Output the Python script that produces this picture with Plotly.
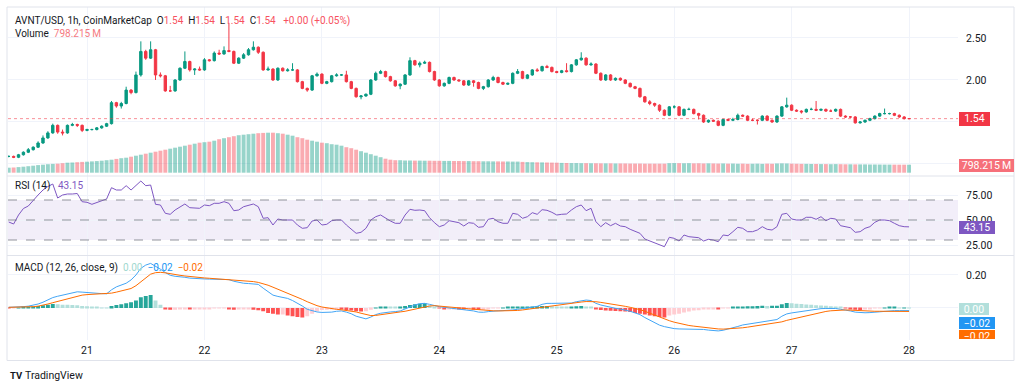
import plotly.graph_objects as go
import pandas as pd

W, H = 1024, 389
FONT = "Roboto"
TXT = "#131722"
UP, DOWN = "#089981", "#f23645"

# ---------------- data ----------------
start_time = "2025-09-20 08:00"
n_bars = 185
times = pd.date_range(start_time, periods=n_bars, freq="h")

closes = [
    1.09, 1.08, 1.11, 1.14, 1.17, 1.20, 1.25, 1.31, 1.37, 1.46,
    1.38, 1.37, 1.46, 1.47, 1.46, 1.40, 1.41, 1.41, 1.43, 1.45,
    1.48, 1.73, 1.69, 1.72, 1.88, 1.85, 2.06, 2.34, 2.26, 2.36,
    2.06, 2.05, 1.87, 1.87, 2.00, 2.14, 2.22, 2.12, 2.13, 2.12,
    2.24, 2.23, 2.32, 2.31, 2.35, 2.34, 2.20, 2.26, 2.30, 2.36,
    2.39, 2.33, 2.12, 2.13, 2.00, 2.14, 2.11, 2.12, 2.12, 1.98,
    1.90, 1.88, 2.05, 2.07, 1.96, 1.98, 2.05, 2.06, 2.06, 1.98,
    1.90, 1.80, 1.81, 1.83, 2.00, 2.08, 2.10, 2.04, 1.99, 1.93,
    1.95, 2.06, 2.23, 2.18, 2.20, 2.21, 2.10, 2.00, 1.93, 1.96,
    2.03, 2.00, 1.99, 1.94, 1.99, 1.97, 1.90, 1.92, 2.00, 2.03,
    1.97, 1.95, 1.96, 2.08, 2.10, 2.02, 2.06, 2.12, 2.11, 2.16,
    2.15, 2.10, 2.09, 2.11, 2.10, 2.18, 2.24, 2.26, 2.18, 2.19,
    2.08, 2.00, 2.06, 2.00, 2.02, 2.00, 1.96, 1.92, 1.90, 1.80,
    1.74, 1.72, 1.70, 1.64, 1.58, 1.68, 1.68, 1.58, 1.65, 1.65,
    1.60, 1.58, 1.50, 1.52, 1.51, 1.46, 1.53, 1.52, 1.53, 1.58,
    1.57, 1.52, 1.52, 1.52, 1.57, 1.52, 1.50, 1.57, 1.68, 1.70,
    1.64, 1.63, 1.62, 1.65, 1.65, 1.64, 1.65, 1.63, 1.63, 1.65,
    1.57, 1.56, 1.56, 1.49, 1.50, 1.52, 1.54, 1.57, 1.60, 1.60,
    1.60, 1.58, 1.56, 1.54, 1.54,
]
highs = [
    1.10, 1.10, 1.12, 1.15, 1.19, 1.21, 1.27, 1.34, 1.39, 1.48,
    1.47, 1.41, 1.47, 1.49, 1.48, 1.47, 1.42, 1.42, 1.44, 1.46,
    1.49, 1.75, 1.74, 1.74, 1.92, 1.89, 2.10, 2.46, 2.36, 2.46,
    2.37, 2.09, 2.06, 1.93, 2.01, 2.15, 2.34, 2.23, 2.14, 2.16,
    2.26, 2.25, 2.34, 2.36, 2.40, 2.68, 2.35, 2.27, 2.32, 2.38,
    2.46, 2.40, 2.34, 2.16, 2.14, 2.15, 2.15, 2.14, 2.20, 2.13,
    1.99, 1.91, 2.06, 2.09, 2.08, 1.99, 2.06, 2.08, 2.07, 2.11,
    1.99, 1.91, 1.82, 1.84, 2.01, 2.10, 2.12, 2.11, 2.05, 2.00,
    1.96, 2.07, 2.27, 2.24, 2.22, 2.23, 2.22, 2.11, 2.01, 1.97,
    2.04, 2.04, 2.01, 2.00, 2.00, 2.00, 1.98, 1.93, 2.01, 2.05,
    2.04, 1.98, 1.97, 2.09, 2.13, 2.11, 2.07, 2.13, 2.14, 2.17,
    2.18, 2.16, 2.11, 2.12, 2.20, 2.19, 2.25, 2.33, 2.27, 2.21,
    2.20, 2.09, 2.07, 2.07, 2.03, 2.03, 2.01, 1.97, 1.93, 1.91,
    1.81, 1.76, 1.73, 1.71, 1.65, 1.69, 1.70, 1.69, 1.66, 1.67,
    1.66, 1.61, 1.59, 1.53, 1.53, 1.52, 1.54, 1.54, 1.55, 1.60,
    1.59, 1.58, 1.54, 1.53, 1.58, 1.58, 1.53, 1.58, 1.69, 1.79,
    1.71, 1.65, 1.64, 1.66, 1.67, 1.75, 1.66, 1.66, 1.65, 1.66,
    1.66, 1.58, 1.57, 1.57, 1.51, 1.53, 1.55, 1.58, 1.61, 1.66,
    1.61, 1.61, 1.59, 1.57, 1.54,
]
lows = [
    1.08, 1.07, 1.07, 1.10, 1.13, 1.16, 1.19, 1.24, 1.30, 1.36,
    1.36, 1.34, 1.36, 1.45, 1.44, 1.38, 1.39, 1.40, 1.40, 1.42,
    1.44, 1.47, 1.67, 1.66, 1.71, 1.83, 1.84, 2.04, 2.24, 2.25,
    2.00, 2.03, 1.86, 1.86, 1.86, 1.99, 2.13, 2.10, 2.06, 2.11,
    2.11, 2.22, 2.22, 2.30, 2.30, 2.33, 2.19, 2.19, 2.25, 2.29,
    2.35, 2.31, 2.11, 2.11, 1.99, 1.99, 2.10, 2.10, 2.11, 1.97,
    1.89, 1.86, 1.87, 2.04, 1.95, 1.95, 1.97, 2.04, 2.05, 1.97,
    1.89, 1.79, 1.77, 1.80, 1.82, 1.99, 2.07, 2.03, 1.98, 1.92,
    1.89, 1.94, 2.05, 2.17, 2.15, 2.19, 2.09, 1.99, 1.92, 1.92,
    1.95, 1.99, 1.98, 1.93, 1.93, 1.92, 1.89, 1.88, 1.91, 1.99,
    1.96, 1.94, 1.94, 1.95, 2.07, 2.01, 2.01, 2.05, 2.10, 2.10,
    2.14, 2.09, 2.08, 2.08, 2.09, 2.09, 2.17, 2.23, 2.17, 2.17,
    2.07, 1.99, 1.99, 1.99, 1.99, 1.99, 1.95, 1.91, 1.89, 1.79,
    1.73, 1.70, 1.68, 1.62, 1.57, 1.57, 1.66, 1.57, 1.57, 1.64,
    1.59, 1.53, 1.49, 1.49, 1.50, 1.45, 1.45, 1.51, 1.51, 1.52,
    1.56, 1.51, 1.51, 1.47, 1.51, 1.51, 1.49, 1.49, 1.56, 1.67,
    1.63, 1.62, 1.60, 1.61, 1.64, 1.63, 1.63, 1.62, 1.62, 1.62,
    1.56, 1.55, 1.55, 1.48, 1.48, 1.49, 1.51, 1.53, 1.56, 1.59,
    1.59, 1.57, 1.55, 1.53, 1.54,
]
first_open = 1.09
opens = [first_open] + closes[:-1]

volume_m = [
    500, 520, 560, 600, 650, 700, 760, 800, 850, 880,
    900, 950, 1000, 1020, 1050, 1080, 1100, 1130, 1160, 1200,
    1250, 1300, 1380, 1450, 1500, 1600, 1700, 1800, 1900, 2000,
    2100, 2200, 2300, 2400, 2500, 2600, 2700, 2800, 2900, 3000,
    3050, 3100, 3200, 3350, 3450, 3550, 3650, 3750, 3800, 3850,
    3900, 3950, 3980, 4000, 4000, 3950, 3900, 3800, 3700, 3550,
    3450, 3300, 3200, 3100, 3000, 2950, 2850, 2800, 2700, 2550,
    2450, 2300, 2150, 2000, 1850, 1700, 1550, 1400, 1300, 1250,
    1250, 1220, 1220, 1210, 1210, 1200, 1200, 1190, 1190, 1180,
    1180, 1170, 1170, 1160, 1160, 1150, 1150, 1140, 1140, 1130,
    1130, 1120, 1120, 1110, 1110, 1080, 1060, 1050, 1040, 1030,
    1020, 1010, 1000, 980, 970, 960, 960, 950, 950, 940,
    940, 930, 930, 930, 920, 920, 920, 910, 910, 910,
    900, 900, 900, 900, 900, 950, 960, 950, 940, 950,
    930, 940, 920, 930, 920, 910, 920, 900, 910, 890,
    900, 880, 890, 900, 880, 900, 890, 920, 930, 920,
    900, 890, 880, 880, 870, 870, 860, 860, 850, 860,
    850, 840, 840, 830, 830, 830, 820, 820, 815, 810,
    810, 805, 800, 800, 798,
]

rsi = [
    48, 46, 55, 61.5, 64, 70, 75, 80, 83.5, 86,
    72, 75, 76, 76, 76.5, 68.3, 67.7, 65.7, 67.3, 69,
    71, 82.3, 80, 80, 84.3, 80, 85, 89, 84.3, 85,
    65.7, 65, 56.7, 55.7, 60, 63.3, 66, 62.3, 61.7, 61.7,
    65, 64.3, 66.7, 66.7, 68.3, 66.7, 59.3, 60, 63.3, 64.3,
    66, 63.3, 51.7, 52.3, 45, 51, 50, 50, 50, 45,
    41.7, 42.3, 49, 50, 45, 45.7, 49.3, 50, 50, 45,
    40.7, 36.7, 37.7, 41.7, 50, 53.3, 55, 51.7, 49, 46.7,
    46.7, 55, 60.7, 59.7, 60, 59.3, 52.3, 47.3, 43.3, 45,
    49.3, 48.3, 47.3, 44, 47.3, 46.7, 42.7, 43.3, 50.7, 51.7,
    48.3, 46.7, 46.7, 56.7, 55.7, 51.7, 53.3, 57.3, 55.7, 60.3,
    59.7, 57.7, 55, 55.7, 56, 60, 63.3, 65, 59.3, 61.7,
    48.3, 43.3, 47.3, 44.3, 46.7, 44, 43.3, 40.7, 39, 36.7,
    31, 29, 27.3, 25.7, 23.3, 32.7, 31.7, 29, 35, 33.3,
    32.7, 32.3, 29, 30.7, 30, 28.3, 35, 34.3, 38.3, 42.7,
    41.7, 38.3, 38.3, 40, 43.3, 40.7, 40, 43.3, 55.7, 56.7,
    51, 50, 50, 52.7, 52.7, 50.7, 53.3, 49.3, 51.7, 51,
    44.3, 43.3, 42.3, 37.7, 38.3, 41.7, 43.3, 47.7, 50, 50,
    49.3, 46.7, 44.3, 43.3, 43.15,
]

macd = [
    .004, .004, .006, .008, .011, .016, .024, .035, .048, .063,
    .071, .078, .085, .093, .098, .096, .093, .090, .088, .087,
    .086, .110, .128, .140, .150, .170, .200, .240, .260, .270,
    .255, .235, .215, .198, .192, .190, .186, .181, .178, .177,
    .176, .175, .175, .175, .176, .172, .162, .155, .150, .148,
    .147, .143, .120, .098, .078, .070, .064, .058, .045, .030,
    .012, -.008, -.018, -.024, -.027, -.027, -.025, -.020, -.018, -.025,
    -.035, -.050, -.060, -.066, -.055, -.040, -.032, -.027, -.024, -.022,
    -.018, -.006, .008, .018, .026, .028, .022, .014, .008, .004,
    .000, -.003, -.006, -.010, -.012, -.018, -.025, -.026, -.022, -.018,
    -.017, -.016, -.015, -.012, -.008, -.004, .000, .004, .010, .022,
    .028, .028, .028, .028, .028, .030, .038, .045, .048, .045,
    .028, .018, .010, .003, -.002, -.006, -.012, -.020, -.030, -.040,
    -.058, -.075, -.090, -.104, -.113, -.120, -.125, -.127, -.127, -.127,
    -.127, -.127, -.130, -.134, -.137, -.139, -.135, -.128, -.122, -.112,
    -.103, -.098, -.093, -.088, -.083, -.079, -.075, -.070, -.050, -.036,
    -.030, -.025, -.021, -.016, -.010, -.006, -.004, -.003, -.002, -.003,
    -.008, -.012, -.018, -.025, -.028, -.029, -.028, -.025, -.021, -.018,
    -.017, -.016, -.016, -.016, -.016,
]
signal = [
    .004, .004, .005, .006, .007, .008, .011, .016, .024, .032,
    .040, .050, .058, .066, .073, .078, .081, .083, .084, .085,
    .085, .090, .096, .102, .108, .118, .135, .160, .185, .205,
    .214, .216, .213, .207, .202, .198, .194, .190, .186, .184,
    .182, .180, .178, .176, .175, .174, .172, .168, .165, .162,
    .160, .155, .148, .138, .126, .114, .102, .090, .079, .066,
    .052, .038, .024, .014, .006, .000, -.005, -.008, -.011, -.014,
    -.018, -.024, -.032, -.040, -.046, -.045, -.040, -.035, -.032, -.028,
    -.024, -.020, -.014, -.006, .002, .008, .012, .014, .012, .008,
    .004, .002, .000, -.002, -.005, -.008, -.011, -.014, -.016, -.017,
    -.018, -.018, -.018, -.017, -.015, -.012, -.008, -.004, .000, .006,
    .012, .016, .020, .023, .026, .028, .032, .036, .039, .040,
    .038, .034, .030, .025, .020, .015, .010, .004, -.002, -.010,
    -.020, -.032, -.042, -.055, -.066, -.077, -.086, -.094, -.100, -.106,
    -.110, -.114, -.117, -.120, -.124, -.127, -.128, -.127, -.125, -.123,
    -.120, -.116, -.112, -.108, -.104, -.100, -.096, -.090, -.084, -.075,
    -.068, -.060, -.052, -.045, -.038, -.032, -.026, -.021, -.017, -.014,
    -.012, -.012, -.013, -.015, -.017, -.018, -.019, -.020, -.020, -.020,
    -.020, -.021, -.021, -.021, -.021,
]
hist = [
    -.003, -.002, .002, .004, .006, .009, .012, .016, .020, .024,
    .022, .020, .019, .018, .016, .012, .010, .007, .004, .002,
    .001, .012, .018, .022, .028, .035, .045, .065, .072, .078,
    .045, .020, -.004, -.010, -.010, -.008, -.006, -.009, -.008, -.007,
    -.005, -.004, -.003, -.002, -.002, -.006, -.010, -.009, -.006, -.005,
    -.010, -.014, -.020, -.030, -.035, -.040, -.040, -.045, -.050, -.055,
    -.058, -.050, -.035, -.020, -.012, -.010, -.008, -.006, -.008, -.012,
    -.016, -.020, -.022, -.020, -.010, .002, .008, .009, .007, .006,
    .006, .012, .018, .022, .025, .028, .015, .006, -.002, -.006,
    -.006, -.005, -.006, -.008, -.006, -.010, -.012, -.010, -.005, -.002,
    -.001, .001, .003, .006, .007, .008, .009, .009, .010, .012,
    .012, .010, .007, .005, .004, .006, .010, .012, .006, .003,
    -.008, -.012, -.015, -.017, -.018, -.020, -.022, -.025, -.030, -.035,
    -.040, -.045, -.050, -.055, -.058, -.045, -.040, -.035, -.028, -.022,
    -.016, -.013, -.008, -.005, -.004, -.006, -.003, -.001, .003, .006,
    .008, .010, .011, .012, .013, .012, .013, .014, .022, .030,
    .028, .026, .024, .021, .019, .017, .015, .013, .010, .008,
    .003, -.003, -.006, -.010, -.012, -.008, -.005, -.003, -.001, .002,
    .003, .003, .002, .002, .001,
]

day_ticks = ["2025-09-21", "2025-09-22", "2025-09-23", "2025-09-24",
             "2025-09-25", "2025-09-26", "2025-09-27", "2025-09-28"]
day_labels = ["21", "22", "23", "24", "25", "26", "27", "28"]
price_ticks = [1.0, 1.5, 2.0, 2.5]
price_labels = ["", "", "2.00", "2.50"]
rsi_ticks = [25, 50, 75]
rsi_labels = ["25.00", "50.00", "75.00"]
macd_ticks = [0.0, 0.2]
macd_labels = ["", "0.20"]
rsi_band = (30, 70)
rsi_mid = 50

symbol_text = "AVNT/USD, 1h, CoinMarketCap"
change_text = "+0.00 (+0.05%)"
volume_text = "798.215\u2009M"
rsi_text = "43.15"
hist_text, macd_text, signal_text = "0.00", "\u22120.02", "\u22120.02"

# ---------------- helpers ----------------
def px(x):
    return x / W

def py(y):
    return 1 - y / H

# colors derived from data
vol_colors = ["rgba(8,153,129,0.42)" if c >= o else "rgba(242,54,69,0.42)"
              for o, c in zip(opens, closes)]
hist_colors = []
prev = 0.0
for v in hist:
    if v >= 0:
        hist_colors.append("#26a69a" if v >= prev else "#b2dfdb")
    else:
        hist_colors.append("#ff5252" if v < prev else "#ffcdd2")
    prev = v

fig = go.Figure()
fig.add_trace(go.Bar(x=times, y=volume_m, marker=dict(color=vol_colors, line=dict(width=0)),
                     yaxis="y2", hoverinfo="skip"))
fig.add_trace(go.Candlestick(
    x=times, open=opens, high=highs, low=lows, close=closes,
    increasing=dict(line=dict(color=UP, width=1), fillcolor=UP),
    decreasing=dict(line=dict(color=DOWN, width=1), fillcolor=DOWN),
    whiskerwidth=0, yaxis="y", hoverinfo="skip"))
fig.add_trace(go.Scatter(x=times, y=rsi, mode="lines", line=dict(color="#7e57c2", width=1),
                         yaxis="y3", hoverinfo="skip"))
fig.add_trace(go.Bar(x=times, y=hist, marker=dict(color=hist_colors, line=dict(width=0)),
                     yaxis="y4", hoverinfo="skip"))
fig.add_trace(go.Scatter(x=times, y=macd, mode="lines", line=dict(color="#42a5f5", width=1),
                         yaxis="y4", hoverinfo="skip"))
fig.add_trace(go.Scatter(x=times, y=signal, mode="lines", line=dict(color="#ff6d00", width=1),
                         yaxis="y4", hoverinfo="skip"))

GRID = "#f0f3fa"
tickfont = dict(family=FONT, size=10.5, color=TXT)
yax = dict(side="right", showgrid=True, gridcolor=GRID, zeroline=False, showline=False,
           ticks="", tickfont=tickfont, anchor="x", ticklabelstandoff=7)

fig.update_layout(
    width=W, height=H, margin=dict(l=0, r=0, t=0, b=0),
    paper_bgcolor="white", plot_bgcolor="white", showlegend=False,
    barmode="overlay", bargap=0.2,
    xaxis=dict(domain=[px(8), px(958)], type="date",
               range=["2025-09-20 07:51", "2025-09-28 10:00"],
               anchor="y4", tickvals=day_ticks, ticktext=day_labels,
               showgrid=True, gridcolor=GRID, zeroline=False, showline=False,
               ticks="", tickfont=tickfont, rangeslider=dict(visible=False),
               ticklabelstandoff=2),
    yaxis=dict(domain=[py(176), py(7)], range=[0.857, 2.869],
               tickvals=price_ticks, ticktext=price_labels, **yax),
    yaxis2=dict(overlaying="y", range=[-330, 16570], visible=False),
    yaxis3=dict(domain=[py(255.5), py(176)], range=[14.5, 94],
                tickvals=rsi_ticks, ticktext=rsi_labels, **yax),
    yaxis4=dict(domain=[py(340), py(255.5)], range=[-0.194, 0.318],
                tickvals=macd_ticks, ticktext=macd_labels, **yax),
)

shapes = []
# outer frame and pane separators
shapes.append(dict(type="rect", xref="paper", yref="paper", x0=px(7), x1=px(1014),
                   y0=py(360.5), y1=py(7), line=dict(color="#e0e3eb", width=1)))
for ys in (176, 255.5):
    shapes.append(dict(type="line", xref="paper", yref="paper", x0=px(7), x1=px(1014),
                       y0=py(ys), y1=py(ys), line=dict(color="#e0e3eb", width=1)))
# RSI band and levels
shapes.append(dict(type="rect", xref="x domain", yref="y3", x0=0, x1=1,
                   y0=rsi_band[0], y1=rsi_band[1], fillcolor="rgba(126,87,194,0.1)",
                   line=dict(width=0), layer="below"))
for lvl in (rsi_band[1], rsi_mid, rsi_band[0]):
    shapes.append(dict(type="line", xref="x domain", yref="y3", x0=0, x1=1, y0=lvl, y1=lvl,
                       line=dict(color="rgba(120,123,134,0.8)", width=1, dash="dash")))
# last price line
shapes.append(dict(type="line", xref="x domain", yref="y", x0=0, x1=1,
                   y0=closes[-1], y1=closes[-1],
                   line=dict(color="rgba(242,54,69,0.55)", width=1, dash="dot")))
fig.update_layout(shapes=shapes)

ann = []
def text(x, y, s, size=10, color=TXT):
    ann.append(dict(x=px(x), y=py(y), xref="paper", yref="paper", xanchor="left",
                    yanchor="middle", text=s, showarrow=False,
                    font=dict(family=FONT, size=size, color=color)))

RED_T = "#f7525f"
nb = "\u00a0"
hdr = symbol_text + nb * 2
for lab, val in zip(["O", "H", "L", "C"], [opens[-1], highs[-1], lows[-1], closes[-1]]):
    hdr += f'{lab}<span style="color:{RED_T}">{val:.2f}</span>' + nb * 2
hdr += f'{nb}<span style="color:{RED_T}">{change_text}</span>'
text(13, 20.5, hdr)
text(13, 34, f'Volume{nb}{nb}<span style="color:#f57a82">{volume_text}</span>')
text(13, 185.5, f'RSI (14){nb}{nb}{nb}<span style="color:#7e57c2">{rsi_text}</span>')
text(13, 268, f'MACD (12, 26, close, 9){nb}{nb}<span style="color:#9fd8cf">{hist_text}</span>'
              f'{nb}{nb}<span style="color:#2196f3">{macd_text}</span>'
              f'{nb}{nb}<span style="color:#ff6d00">{signal_text}</span>')

def box(s, yc, w, h, bg, valign="middle"):
    ann.append(dict(x=px(959), y=py(yc), xref="paper", yref="paper", xanchor="left",
                    yanchor="middle", text=s, showarrow=False, bgcolor=bg,
                    width=w, height=h, borderpad=0, borderwidth=0, valign=valign,
                    font=dict(family=FONT, size=10.5, color="white")))

box(f"{closes[-1]:.2f}", 119.3, 31, 13.5, DOWN)
box(volume_text, 165.5, 55, 13, "#f6707a")
box(rsi_text, 227.3, 36, 13.3, "#7e57c2")
box(hist_text, 308.8, 30, 12.3, "#b2dfdb")
box(macd_text, 323, 36, 12.3, "#2196f3")
box(signal_text, 334.3, 36, 8.5, "#ff6d00", valign="top")

# TradingView logo
text(8, 375, "<b>TV</b>", size=9.5, color="#131722")
text(23, 375, "TradingView", size=10.5, color="#131722")

fig.update_layout(annotations=ann)
fig.write_html("out.html", config={"displayModeBar": False},
               post_script="document.body.style.margin='0';document.body.style.overflow='hidden';")
